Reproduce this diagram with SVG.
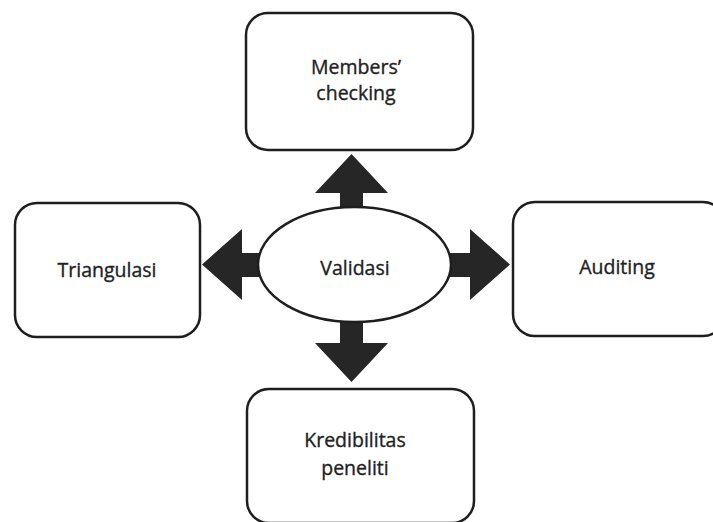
<svg xmlns="http://www.w3.org/2000/svg" width="713" height="522" viewBox="0 0 713 522">
<style>
.box{fill:#fff;stroke:#1e1e1e;stroke-width:2.5}
.arr{fill:#262626}
.t{font-family:"Open Sans","Liberation Sans",sans-serif;font-size:19.5px;fill:#222;stroke:#222;stroke-width:0.35;text-anchor:middle}
</style>
<rect width="713" height="522" fill="#fff"/>
<g id="connectors">
<polygon class="arr" points="351.5,154 388,193 363,193 363,210 340,210 340,193 315,193"/>
<polygon class="arr" points="351.5,382 388,343 363,343 363,320 340,320 340,343 315,343"/>
<polygon class="arr" points="202,264.5 242,229 242,253 262,253 262,277 242,277 242,300"/>
<polygon class="arr" points="510,264.5 470,229 470,253 448,253 448,277 470,277 470,300"/>
</g>
<g id="members-checking">
<rect class="box" x="246" y="13" width="227" height="137" rx="22"/>
<text class="t" x="356" y="74">Members’</text>
<text class="t" x="356" y="100">checking</text>
</g>
<g id="triangulasi">
<rect class="box" x="15" y="203" width="185" height="134" rx="22"/>
<text class="t" x="107" y="277">Triangulasi</text>
</g>
<g id="auditing">
<rect class="box" x="513" y="202" width="212" height="134" rx="22"/>
<text class="t" x="617" y="274">Auditing</text>
</g>
<g id="kredibilitas-peneliti">
<rect class="box" x="247" y="389" width="227" height="134" rx="22"/>
<text class="t" x="355" y="447">Kredibilitas</text>
<text class="t" x="355" y="475">peneliti</text>
</g>
<g id="validasi">
<ellipse class="box" cx="354.5" cy="264.5" rx="96.5" ry="57.5"/>
<text class="t" x="355" y="275">Validasi</text>
</g>
</svg>
